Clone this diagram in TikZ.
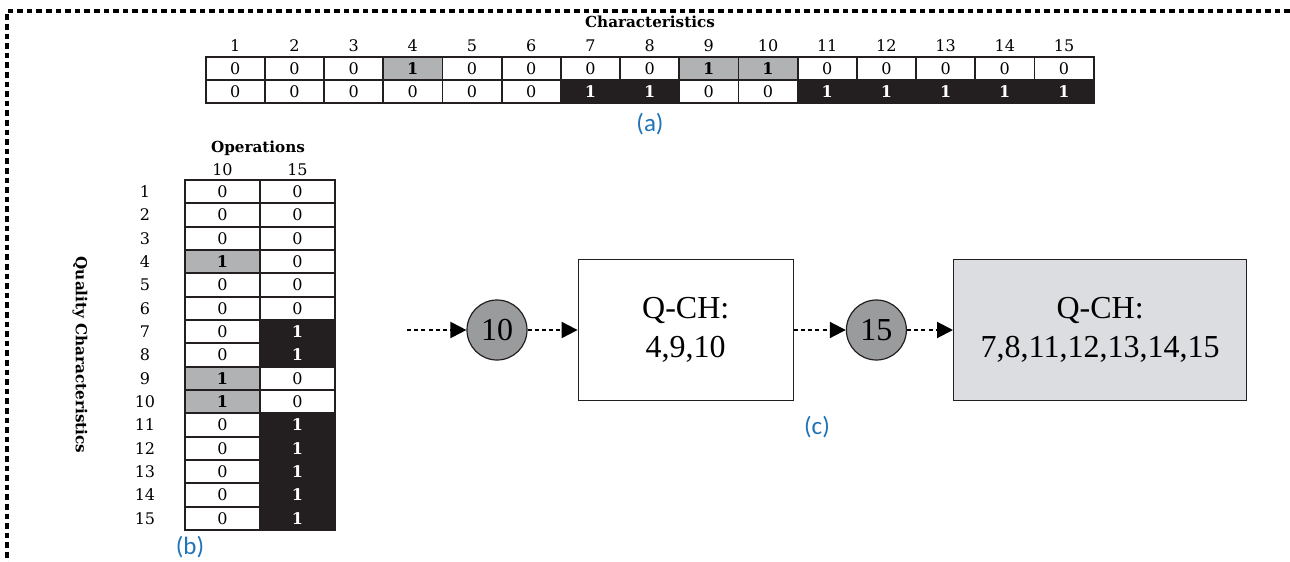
\documentclass[tikz,border=0pt]{standalone}
\usepackage{fontspec}
\setmainfont{DejaVu Serif}
\newfontfamily\boxfont{Liberation Serif}
\newfontfamily\tagfont{Carlito}
\usepackage{tikz}
\usetikzlibrary{arrows.meta,positioning}
\definecolor{cellgray}{RGB}{177,178,180}
\definecolor{celldark}{RGB}{35,31,32}
\definecolor{opgray}{RGB}{154,155,157}
\definecolor{boxgray}{RGB}{220,221,224}
\definecolor{tagblue}{RGB}{31,115,183}
\newcommand{\smallfont}{\fontsize{8}{9}\selectfont}
\newcommand{\headfont}{\fontsize{7.6}{9}\selectfont\bfseries}

\begin{document}
\begin{tikzpicture}[x=0.5pt, y=-0.5pt,
    cell/.style={draw=celldark, line width=0.9pt, fill=white, inner sep=0pt, minimum width=29.6pt, minimum height=11.5pt, font=\smallfont},
    cellb/.style={cell, minimum width=37.5pt, minimum height=11.67pt},
    gray0/.style={}, gray1/.style={fill=cellgray, font=\smallfont\bfseries},
    dark0/.style={}, dark1/.style={fill=celldark, text=white, font=\smallfont\bfseries},
    lbl/.style={inner sep=0pt, font=\smallfont},
    head/.style={inner sep=0pt, font=\headfont},
    tag/.style={text=tagblue, font=\tagfont\fontsize{12.5}{14}\selectfont},
    opcircle/.style={circle, draw=celldark, line width=0.6pt, fill=opgray, minimum size=30pt, inner sep=0pt, font=\boxfont\fontsize{16}{18}\selectfont},
    qbox/.style={rectangle, draw=celldark, line width=0.6pt, fill=white, minimum width=107.5pt, minimum height=70.5pt, align=center, font=\boxfont\fontsize{16}{19.5}\selectfont},
    flow/.style={line width=1pt, dash pattern=on 2pt off 1.6pt, -{Triangle[length=8pt, width=8pt]}},
    border/.style={line width=1.6pt, dash pattern=on 2.8pt off 2pt}
]
\useasboundingbox (0,0) rectangle (1290,562);
\draw[border] (1290,11) -| (7,562);

% (a) characteristics per operation
\node[head] (charhead) at (650,22) {Characteristics};
\foreach \c in {1,...,15}
  \node[lbl] (ha-\c) at ({176+59.2*\c},46) {\c};
\foreach \v [count=\c] in {0,0,0,1,0,0,0,0,1,1,0,0,0,0,0}
  \node[cell, gray\v] (a1-\c) at ({176+59.2*\c},68.5) {\v};
\foreach \v [count=\c] in {0,0,0,0,0,0,1,1,0,0,1,1,1,1,1}
  \node[cell, dark\v] (a2-\c) at ({176+59.2*\c},91.5) {\v};
\node[tag] (taga) at (650,124) {(a)};

% (b) operations per quality characteristic
\node[head] (ophead) at (258,148) {Operations};
\node[lbl] (hb-10) at (222.5,170) {10};
\node[lbl] (hb-15) at (297.5,170) {15};
\foreach \c in {1,...,15}
  \node[lbl] (hr-\c) at (145,{168.33+23.33*\c}) {\c};
\foreach \v [count=\c] in {0,0,0,1,0,0,0,0,1,1,0,0,0,0,0}
  \node[cellb, gray\v] (b10-\c) at (222.5,{168.33+23.33*\c}) {\v};
\foreach \v [count=\c] in {0,0,0,0,0,0,1,1,0,0,1,1,1,1,1}
  \node[cellb, dark\v] (b15-\c) at (297.5,{168.33+23.33*\c}) {\v};
\node[head, rotate=-90] (qchead) at (80,355) {Quality Characteristics};
\node[tag] (tagb) at (190,547) {(b)};

% (c) operation sequence
\coordinate (start) at (407,330);
\node[opcircle] (op10) at (497,330) {10};
\node[qbox, right=25pt of op10] (qch10) {Q-CH:\\4,9,10};
\node[opcircle, right=26pt of qch10] (op15) {15};
\node[qbox, fill=boxgray, minimum width=146.5pt, right=23pt of op15] (qch15) {Q-CH:\\7,8,11,12,13,14,15};
\draw[flow] (start) -- (op10);
\draw[flow] (op10) -- (qch10);
\draw[flow] (qch10) -- (op15);
\draw[flow] (op15) -- (qch15);
\node[tag] (tagc) at (817,427) {(c)};

\end{tikzpicture}
\end{document}
